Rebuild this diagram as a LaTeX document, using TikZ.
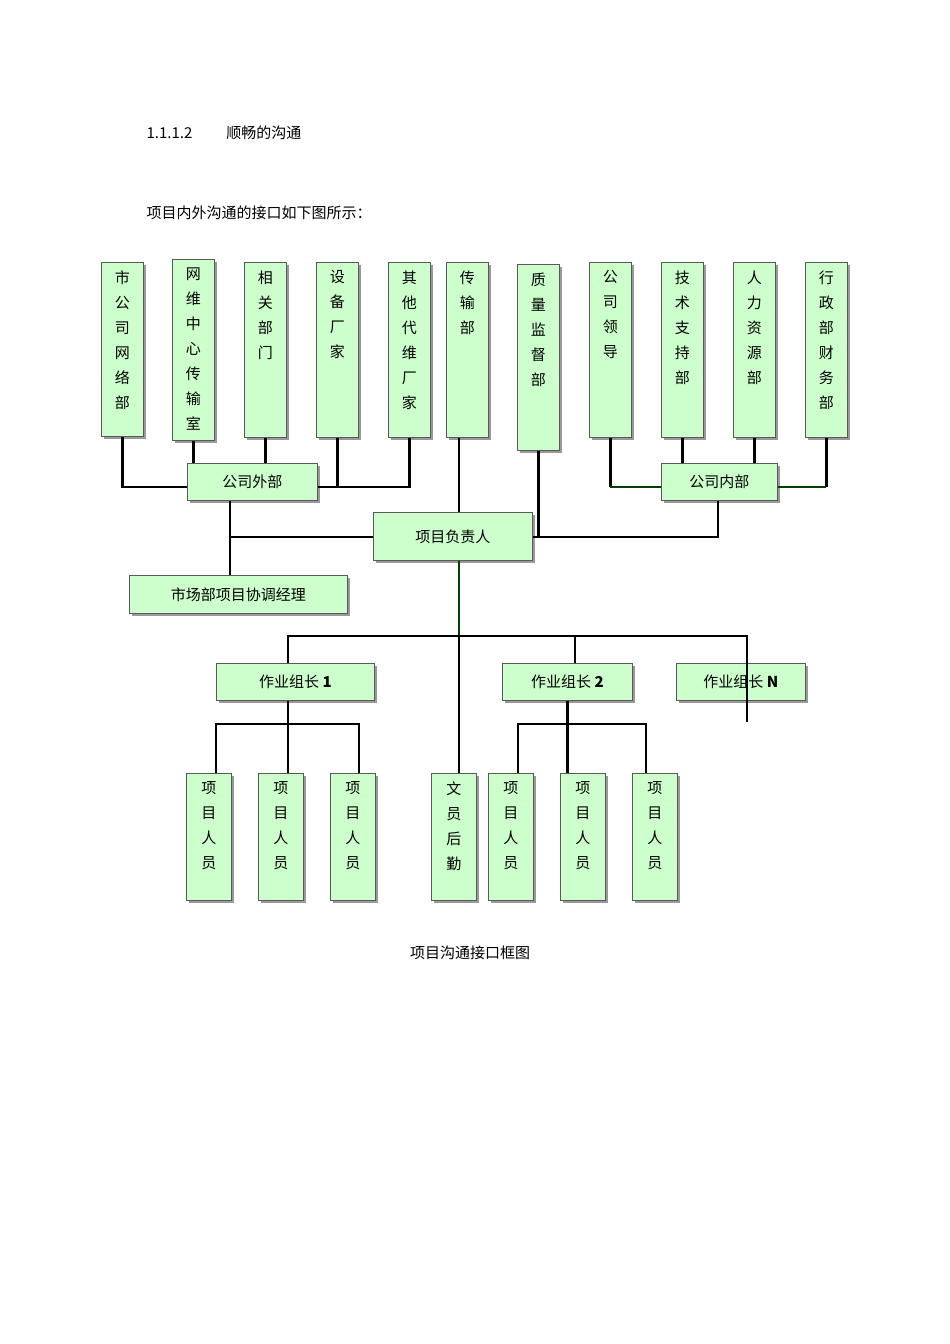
\documentclass[tikz,border=0pt]{standalone}
\usepackage{fontspec}
\setmainfont{Noto Sans CJK SC}
\usetikzlibrary{shadows}
\begin{document}
\begin{tikzpicture}[x=1pt, y=-1pt,
	box/.style={draw=gray!70!black, fill=green!20, line width=0.8pt, inner sep=0pt, anchor=north west,
		drop shadow={shadow xshift=3pt, shadow yshift=-3pt, fill=gray!80, opacity=1}},
	vtext/.style={align=center, font=\fontsize{15}{25}\selectfont, anchor=north},
	htext/.style={font=\fontsize{15}{18}\selectfont},
	ln/.style={line width=2.5pt},
	dg/.style={line width=2.5pt, draw=green!25!black}]
	\useasboundingbox (0,0) rectangle (950,1344);
	\node[htext, anchor=west] at (143,133) {1.1.1.2\hspace{34pt}顺畅的沟通};
	\node[htext, anchor=west] at (143,213) {项目内外沟通的接口如下图所示：};
	\node[htext] at (470,953) {项目沟通接口框图};
	% top row
	\foreach \n/\x/\t/\b/\txt in {t1/101/262/436/市\\公\\司\\网\\络\\部, t2/172/259/440/网\\维\\中\\心\\传\\输\\室,
		t3/244/262/437/相\\关\\部\\门, t4/316/262/437/设\\备\\厂\\家, t5/388/262/437/其\\他\\代\\维\\厂\\家,
		t6/446/262/437/传\\输\\部, t7/517/264/450/质\\量\\监\\督\\部, t8/589/262/437/公\\司\\领\\导,
		t9/661/262/437/技\\术\\支\\持\\部, t10/733/262/437/人\\力\\资\\源\\部, t11/805/262/437/行\\政\\部\\财\\务\\部}{
		\node[box, minimum width=42pt, minimum height={\b-\t}] (\n) at (\x,\t) {};
		\node[vtext] at ([yshift=-5pt]\n.north) {\txt};
	}
	\node[box, minimum width=130pt, minimum height=37pt, htext] (out) at (187,463) {公司外部};
	\node[box, minimum width=116pt, minimum height=37pt, htext] (in) at (661,463) {公司内部};
	\node[box, minimum width=159pt, minimum height=48pt, htext] (pm) at (373,512) {项目负责人};
	\node[box, minimum width=218pt, minimum height=38pt, htext] (mk) at (129,575) {市场部项目协调经理};
	\node[box, minimum width=158pt, minimum height=37pt, htext] (g1) at (216,663) {作业组长 \textbf{1}};
	\node[box, minimum width=130pt, minimum height=37pt, htext] (g2) at (502,663) {作业组长 \textbf{2}};
	\node[box, minimum width=129pt, minimum height=37pt, htext] (gn) at (676,663) {作业组长 \textbf{N}};
	\foreach \n/\x/\txt in {p1/186/项\\目\\人\\员, p2/258/项\\目\\人\\员, p3/330/项\\目\\人\\员, cl/431/文\\员\\后\\勤,
		p4/488/项\\目\\人\\员, p5/560/项\\目\\人\\员, p6/632/项\\目\\人\\员}{
		\node[box, minimum width=45pt, minimum height=127pt] (\n) at (\x,773) {};
		\node[vtext] at ([yshift=-5pt]\n.north) {\txt};
	}
	\coordinate (nend) at (747,722);
	% outside
	\draw[ln] (t1.south) |- (out.west |- 0,487);
	\draw[ln] (t2.south) -- (t2.south |- out.north);
	\draw[ln] (t3.south) -- (t3.south |- out.north);
	\draw[ln] (t4.south) -- (t4.south |- 0,487);
	\draw[ln] (t5.south) |- (out.east |- 0,487);
	\draw[ln] (out.south -| 230,0) -- (mk.north -| 230,0);
	\draw[ln] (230,537) -- (pm.west |- 0,537);
	% inside
	\draw[ln] (t6.south -| 459,0) -- (pm.north -| 459,0);
	\draw[ln] (t7.south) |- (718,537) -- (in.south -| 718,0);
	\draw[ln] (pm.east |- 0,537) -- (t7.south |- 0,537);
	\draw[ln] (t8.south) -- (t8.south |- 0,487);
	\draw[dg] (t8.south |- 0,487) -- (in.west |- 0,487);
	\draw[ln] (t9.south) -- (t9.south |- in.north);
	\draw[ln] (t10.south) -- (t10.south |- in.north);
	\draw[ln] (t11.south) -- (t11.south |- 0,487);
	\draw[dg] (t11.south |- 0,487) -- (in.east |- 0,487);
	% groups
	\draw[dg] (pm.south -| 459,0) -- (459,636);
	\draw[ln] (g1.north -| 288,0) |- (747,636) -- (nend);
	\draw[ln] (g2.north -| 575,0) -- (575,636);
	\draw[ln] (459,636) -- (cl.north -| 459,0);
	\draw[ln] (g1.south -| 288,0) -- (p2.north -| 288,0);
	\draw[ln] (p1.north -| 216,0) |- (359,724) -- (p3.north -| 359,0);
	\draw[ln] (g2.south) -- (p5.north -| g2.south);
	\draw[ln] (p4.north -| 518,0) |- (646,724) -- (p6.north -| 646,0);
\end{tikzpicture}
\end{document}
